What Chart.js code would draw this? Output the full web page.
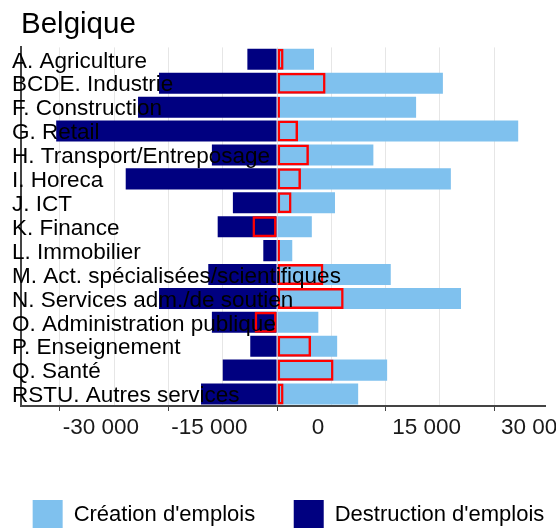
<!DOCTYPE html>
<html>
<head>
<meta charset="utf-8">
<script src="https://cdn.jsdelivr.net/npm/chart.js@4.4.1/dist/chart.umd.min.js"></script>
<style>
  html, body { margin: 0; padding: 0; overflow: hidden; background: #fff; }
  #wrap { width: 556px; height: 540px; }
</style>
</head>
<body>
<div id="wrap"><canvas id="chart"></canvas></div>
<script>
// secteurs
var categories = [
  'A. Agriculture',
  'BCDE. Industrie',
  'F. Construction',
  'G. Retail',
  'H. Transport/Entreposage',
  'I. Horeca',
  'J. ICT',
  'K. Finance',
  'L. Immobilier',
  'M. Act. spécialisées/scientifiques',
  'N. Services adm./de soutien',
  'O. Administration publique',
  'P. Enseignement',
  'Q. Santé',
  'RSTU. Autres services'
];
var creation = [5100, 22900, 19200, 33300, 13300, 24000, 8000, 4800, 2100, 15700, 25400, 5700, 8300, 15200, 11200];
var destruction = [-4100, -16300, -19200, -30500, -9000, -20900, -6100, -8200, -1900, -9500, -16300, -9000, -3700, -7500, -10500];
var net = [900, 6700, 400, 2900, 4400, 3300, 2000, -3400, 400, 6400, 9200, -3100, 4700, 7800, 900];
var gridValues = [-30000, -22500, -15000, -7500, 0, 7500, 15000, 22500, 30000];
var tickValues = [-30000, -15000, 0, 15000, 30000];

function fmt(v) {
  var s = String(Math.abs(v)).replace(/\B(?=(\d{3})+(?!\d))/g, ' ');
  return (v < 0 ? '-' : '') + s;
}

Chart.defaults.font.family = '"Liberation Sans", Arial, sans-serif';
Chart.defaults.color = '#000';

var ctx = document.getElementById('chart').getContext('2d');
var chart = new Chart(ctx, {
  type: 'bar',
  data: {
    labels: categories,
    datasets: [{
      label: 'Solde',
      data: net,
      backgroundColor: 'rgba(0,0,0,0)',
      borderColor: '#ff0000',
      borderWidth: 2.5,
      borderSkipped: false,
      grouped: false
    }, {
      label: "Création d'emplois     ",
      data: creation,
      backgroundColor: '#7fc1ee',
      grouped: false
    }, {
      label: "Destruction d'emplois",
      data: destruction,
      backgroundColor: '#000080',
      grouped: false
    }]
  },
  options: {
    indexAxis: 'y',
    responsive: true,
    maintainAspectRatio: false,
    animation: false,
    layout: { padding: { left: 21, right: 0, top: 0, bottom: 0 } },
    datasets: { bar: { barPercentage: 0.88, categoryPercentage: 1 } },
    plugins: {
      title: {
        display: true,
        text: 'Belgique',
        align: 'start',
        color: '#000',
        font: { size: 29.5, weight: 'normal' },
        padding: { top: 7, bottom: 5 }
      },
      legend: {
        position: 'bottom',
        labels: {
          filter: function(item) { return item.datasetIndex !== 0; },
          boxWidth: 30,
          boxHeight: 30,
          padding: 8,
          color: '#000',
          font: { size: 22 }
        }
      },
      tooltip: { enabled: false }
    },
    scales: {
      x: {
        type: 'linear',
        min: -35360,
        max: 37000,
        afterBuildTicks: function(s) {
          s.ticks = gridValues.map(function(v) { return { value: v }; });
        },
        ticks: {
          autoSkip: false,
          maxRotation: 0,
          labelOffset: 41,
          padding: 3,
          color: '#1a1a1a',
          font: { size: 22.5 },
          callback: function(v) { return tickValues.indexOf(v) >= 0 ? fmt(v) : ''; }
        },
        grid: {
          color: '#e6e6e6',
          tickColor: function(c) { return c.tick && tickValues.indexOf(c.tick.value) >= 0 ? '#444' : 'rgba(0,0,0,0)'; },
          tickLength: 5,
          lineWidth: 1
        },
        border: { display: true, color: '#444', width: 2 },
        afterFit: function(s) { s.height = 86; s.paddingRight = 11; }
      },
      y: {
        grid: { display: false },
        border: { display: true, color: '#444', width: 2 },
        ticks: {
          z: 1,
          mirror: true,
          padding: -9,
          labelOffset: 2,
          autoSkip: false,
          color: '#000',
          font: { size: 22.5 }
        },
        afterFit: function(s) { s.width = 0; }
      }
    }
  }
});
</script>
</body>
</html>
